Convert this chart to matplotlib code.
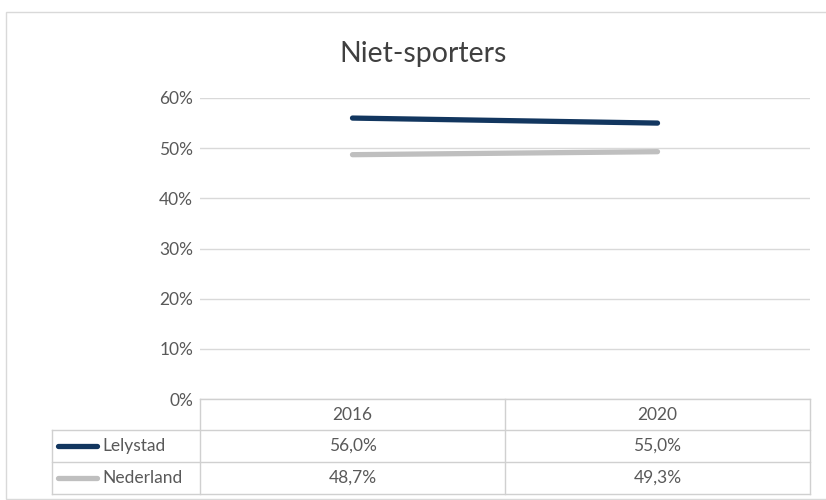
import matplotlib
matplotlib.use("Agg")
import matplotlib.pyplot as plt
from matplotlib.lines import Line2D
from matplotlib.patches import Rectangle

plt.rcParams['font.family'] = ['Lato', 'DejaVu Sans']

title = "Niet-sporters"
years = ["2016", "2020"]
series_names = ["Lelystad", "Nederland"]
lelystad = [56.0, 55.0]
nederland = [48.7, 49.3]
series_values = [lelystad, nederland]
series_colors = ["#12365f", "#bfbfbf"]
y_ticks = [0, 10, 20, 30, 40, 50, 60]

W, H = 826, 500
fig = plt.figure(figsize=(W / 100, H / 100), dpi=100)
text_col = "#595959"
grid_col = "#d9d9d9"
fs = 12.5


def fx(px):
    return px / W


def fy(py):
    return 1 - py / H


# chart frame
fig.patches.append(Rectangle((fx(6), fy(499)), fx(826), fy(12) - fy(499),
                             transform=fig.transFigure, fill=False,
                             edgecolor="#d9d9d9", linewidth=1))

left_px, right_px, top_px, bottom_px = 200, 810, 98, 399
ax = fig.add_axes([fx(left_px), fy(bottom_px), fx(right_px - left_px),
                   fy(top_px) - fy(bottom_px)])
ax.set_xlim(-0.5, len(years) - 0.5)
ax.set_ylim(0, 60)
ax.set_yticks(y_ticks)
ax.set_yticklabels([f"{v}%" for v in y_ticks], color=text_col, fontsize=fs)
ax.tick_params(axis="y", length=0, pad=5)
ax.set_xticks([])
for s in ax.spines.values():
    s.set_visible(False)
ax.grid(axis="y", color=grid_col, linewidth=1)
ax.set_axisbelow(True)

x = list(range(len(years)))
for vals, col in zip(series_values, series_colors):
    ax.plot(x, vals, color=col, linewidth=3.8, solid_capstyle="round", zorder=3)

fig.text(fx(423), fy(54), title, ha="center", va="center", fontsize=20.5,
         color="#404040")

# data table below the axis
tbl_col = "#d0d0d0"
col_edges = [52, 200, 505, 810]
row_edges = [399, 430, 462, 494]


def hline(y, x0, x1):
    fig.add_artist(Line2D([fx(x0), fx(x1)], [fy(y), fy(y)],
                          transform=fig.transFigure, color=tbl_col, linewidth=1))


def vline(x, y0, y1):
    fig.add_artist(Line2D([fx(x), fx(x)], [fy(y0), fy(y1)],
                          transform=fig.transFigure, color=tbl_col, linewidth=1))


hline(row_edges[0], col_edges[1], col_edges[3])
for y in row_edges[1:]:
    hline(y, col_edges[0], col_edges[3])
vline(col_edges[0], row_edges[1], row_edges[3])
for cx in col_edges[1:]:
    vline(cx, row_edges[0], row_edges[3])

for j, yr in enumerate(years):
    cx = (col_edges[j + 1] + col_edges[j + 2]) / 2
    cy = (row_edges[0] + row_edges[1]) / 2
    fig.text(fx(cx), fy(cy), yr, ha="center", va="center", fontsize=fs,
             color=text_col)

for i, (name, vals, col) in enumerate(zip(series_names, series_values,
                                          series_colors)):
    cy = (row_edges[i + 1] + row_edges[i + 2]) / 2
    fig.add_artist(Line2D([fx(58), fx(97)], [fy(cy), fy(cy)],
                          transform=fig.transFigure, color=col, linewidth=3.8,
                          solid_capstyle="round"))
    fig.text(fx(102), fy(cy), name, ha="left", va="center", fontsize=fs,
             color=text_col)
    for j, v in enumerate(vals):
        cx = (col_edges[j + 1] + col_edges[j + 2]) / 2
        fig.text(fx(cx), fy(cy), f"{v:.1f}%".replace(".", ","), ha="center",
                 va="center", fontsize=fs, color=text_col)

fig.savefig("out.png", dpi=100, facecolor="white")
